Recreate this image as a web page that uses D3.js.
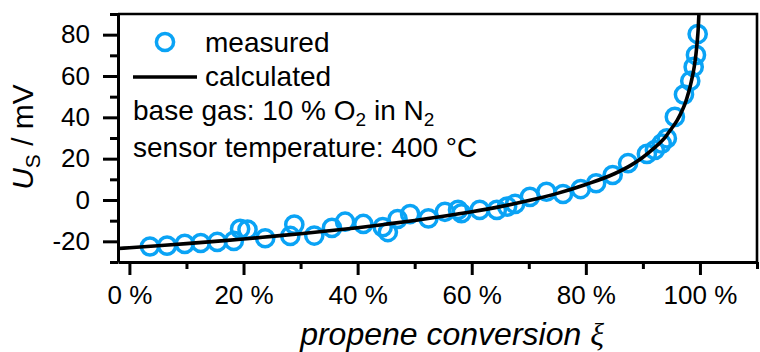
<!DOCTYPE html>
<html><head><meta charset="utf-8">
<script src="https://cdn.jsdelivr.net/npm/d3@7"></script>
<style>
body{margin:0;background:#fff}
svg text{font-family:"Liberation Sans",Arial,Helvetica,sans-serif;fill:#000}
</style>
</head><body>
<svg id="chart" width="760" height="352"></svg>
<script>
// ---- data ----
const measuredX = [3.6, 6.6, 9.7, 12.5, 15.4, 18.3, 19.4, 20.7, 23.8, 28.2, 28.9, 32.4, 35.5, 37.8, 41.0, 44.4, 45.3, 47.0, 49.2, 52.4, 55.3, 57.6, 58.2, 61.4, 64.4, 66.2, 67.6, 70.2, 73.1, 76.0, 79.1, 81.8, 84.7, 87.4, 90.7, 92.1, 93.3, 94.2, 95.6, 97.2, 98.3, 98.9, 99.3, 99.6];
const measuredY = [-22.5, -22.1, -21.2, -20.8, -20.3, -19.8, -14.0, -14.3, -18.5, -17.4, -11.9, -17.2, -13.5, -10.5, -11.6, -13.1, -15.5, -9.2, -6.8, -8.9, -5.7, -4.8, -6.4, -4.8, -4.8, -3.2, -1.9, 1.5, 4.0, 2.9, 5.3, 8.1, 12.1, 17.8, 22.3, 24.2, 27.3, 29.8, 40.2, 51.0, 57.6, 64.4, 70.2, 80.3];
const calcX = [-2, 0, 5, 10, 15, 20, 25, 30, 35, 40, 45, 50, 55, 60, 65, 70, 75, 80, 85, 88, 90, 92, 94, 95, 96, 97, 97.5, 98, 98.5, 99, 99.3, 99.5, 99.7, 99.85];
const calcY = [-23.5, -23.1, -22.1, -21.1, -20.0, -18.9, -17.6, -16.3, -14.9, -13.4, -11.7, -9.9, -7.9, -5.7, -3.2, -0.3, 3.2, 7.5, 12.7, 17.0, 20.7, 25.2, 30.7, 34.5, 38.5, 44.0, 47.5, 52.0, 57.5, 64.5, 70.5, 76.0, 83.0, 92.0];
const xTicks = [0, 20, 40, 60, 80, 100];
const xTickLabels = ["0 %", "20 %", "40 %", "60 %", "80 %", "100 %"];
const xMinorTicks = [10, 30, 50, 70, 90, 110];
const yTicks = [-20, 0, 20, 40, 60, 80];
const yTickLabels = ["-20", "0", "20", "40", "60", "80"];
const yMinorTicks = [-30, -10, 10, 30, 50, 70, 90];
const xDomain = [-2, 110];
const yDomain = [-30, 90];

// ---- layout ----
const L = 118, R = 757, T = 14, B = 262;
const BLUE = "#0aa3f5";
const svg = d3.select("#chart");
const x = d3.scaleLinear().domain(xDomain).range([L, R]);
const y = d3.scaleLinear().domain(yDomain).range([B, T]);

svg.append("defs").append("clipPath").attr("id", "clip")
  .append("rect").attr("x", L).attr("y", T).attr("width", R - L).attr("height", B - T);

// frame (top, right)
svg.append("path").attr("d", `M${L},${T}H${R}V${B}`).attr("fill", "none")
  .attr("stroke", "#000").attr("stroke-width", 2.6);

// measured circles
const pts = measuredX.map((v, i) => [v, measuredY[i]]);
svg.append("g").selectAll("circle").data(pts).join("circle")
  .attr("cx", d => x(d[0])).attr("cy", d => y(d[1])).attr("r", 8.6)
  .attr("fill", "none").attr("stroke", BLUE).attr("stroke-width", 3.5);

// calculated line
const cpts = calcX.map((v, i) => [v, calcY[i]]);
svg.append("path").datum(cpts).attr("clip-path", "url(#clip)")
  .attr("d", d3.line().x(d => x(d[0])).y(d => y(d[1])).curve(d3.curveMonotoneX))
  .attr("fill", "none").attr("stroke", "#000").attr("stroke-width", 3.6);

// axes
function styleAxis(g) {
  g.select(".domain").attr("stroke", "#000").attr("stroke-width", 3);
  g.selectAll(".tick line").attr("stroke", "#000").attr("stroke-width", 3);
  g.selectAll(".tick text").attr("font-size", 26).attr("fill", "#000")
    .style("font-family", '"Liberation Sans",Arial,sans-serif');
}
const xMinor = svg.append("g").attr("transform", `translate(0,${B})`)
  .call(d3.axisBottom(x).tickValues(xMinorTicks).tickSize(7).tickFormat(""));
xMinor.select(".domain").remove();
xMinor.selectAll(".tick line").attr("stroke", "#000").attr("stroke-width", 3);
const xAxis = svg.append("g").attr("transform", `translate(0,${B})`)
  .call(d3.axisBottom(x).tickValues(xTicks).tickSize(13).tickSizeOuter(0).tickPadding(10.5)
    .tickFormat((d, i) => xTickLabels[i]));
styleAxis(xAxis);

const yMinor = svg.append("g").attr("transform", `translate(${L},0)`)
  .call(d3.axisLeft(y).tickValues(yMinorTicks).tickSize(8).tickFormat(""));
yMinor.select(".domain").remove();
yMinor.selectAll(".tick line").attr("stroke", "#000").attr("stroke-width", 3);
const yAxis = svg.append("g").attr("transform", `translate(${L},0)`)
  .call(d3.axisLeft(y).tickValues(yTicks).tickSize(15).tickSizeOuter(0).tickPadding(13)
    .tickFormat((d, i) => yTickLabels[i]));
styleAxis(yAxis);

// axis titles
const xt = svg.append("text").attr("x", 452).attr("y", 345).attr("text-anchor", "middle")
  .attr("font-size", 32).attr("font-style", "italic");
xt.append("tspan").text("propene conversion ");
xt.append("tspan").style("font-family", '"Liberation Serif","Times New Roman",serif').text("ξ");

const yt = svg.append("text").attr("transform", "translate(33,137) rotate(-90)")
  .attr("text-anchor", "middle").attr("font-size", 30);
yt.append("tspan").attr("font-style", "italic").text("U");
yt.append("tspan").attr("font-size", 21).attr("dy", 7).text("S");
yt.append("tspan").attr("dy", -7).text(" / mV");

// legend
svg.append("circle").attr("cx", 165).attr("cy", 42).attr("r", 8.6)
  .attr("fill", "none").attr("stroke", BLUE).attr("stroke-width", 3.5);
svg.append("text").attr("x", 205).attr("y", 52).attr("font-size", 28).text("measured");
svg.append("line").attr("x1", 133).attr("x2", 197).attr("y1", 77).attr("y2", 77)
  .attr("stroke", "#000").attr("stroke-width", 3.6);
svg.append("text").attr("x", 205).attr("y", 86).attr("font-size", 28).text("calculated");

const t3 = svg.append("text").attr("x", 133).attr("y", 120).attr("font-size", 28);
t3.append("tspan").text("base gas: 10 % O");
t3.append("tspan").attr("font-size", 19).attr("dy", 6).text("2");
t3.append("tspan").attr("dy", -6).text(" in N");
t3.append("tspan").attr("font-size", 19).attr("dy", 6).text("2");
svg.append("text").attr("x", 133).attr("y", 157).attr("font-size", 28).text("sensor temperature: 400 °C");
</script>
</body></html>
